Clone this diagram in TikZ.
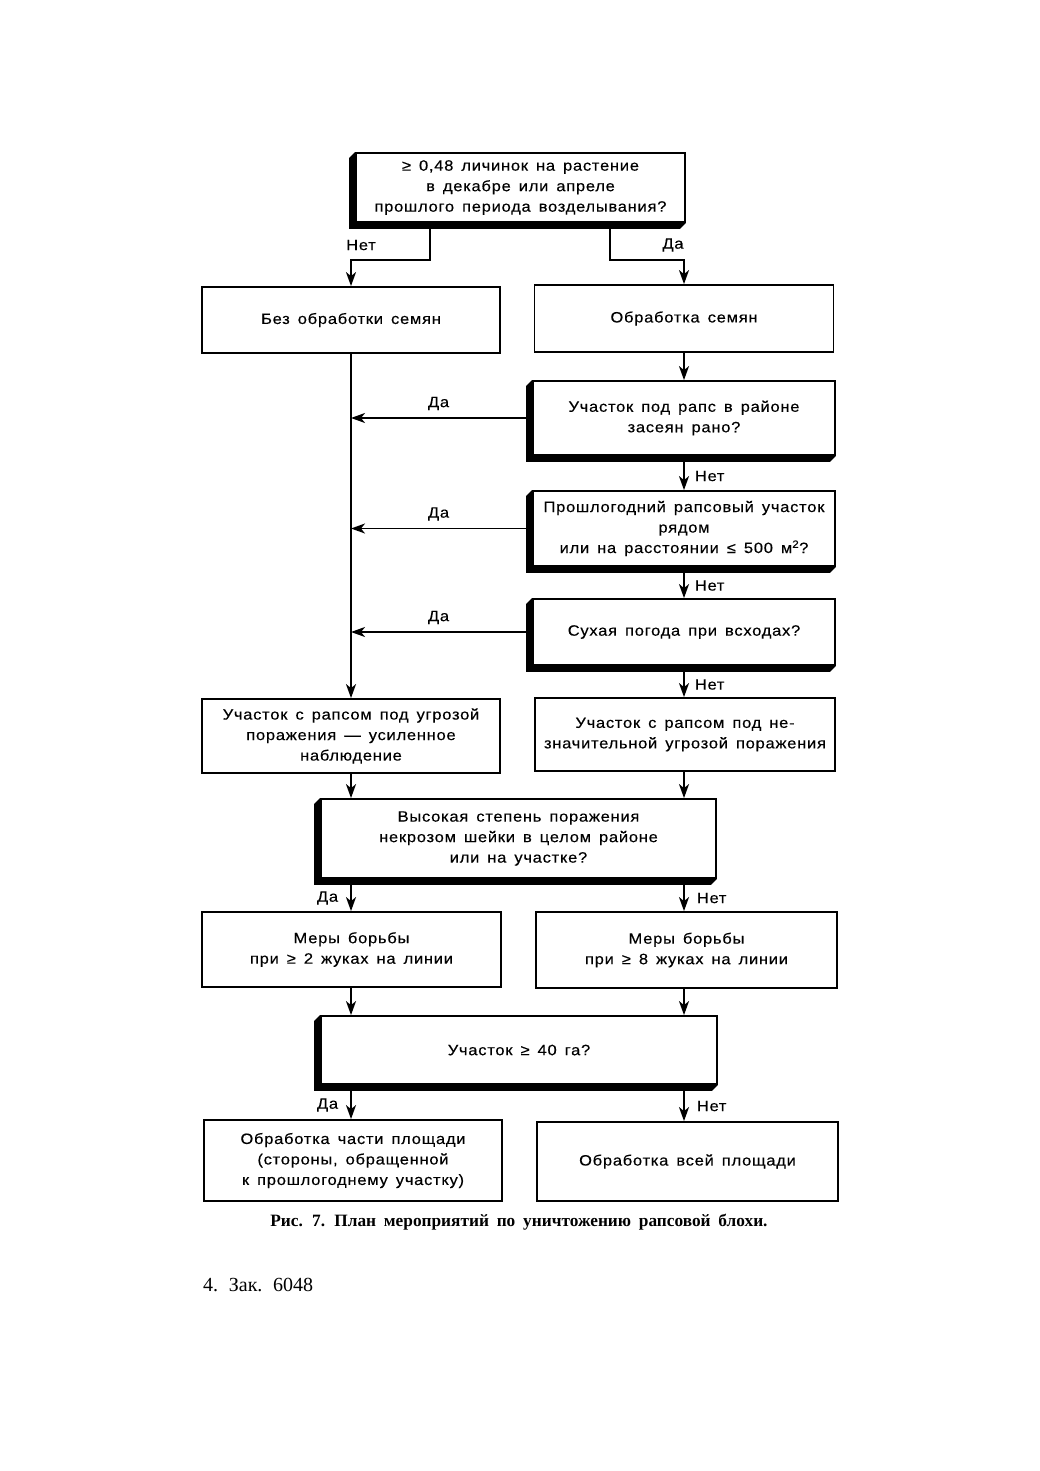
\documentclass[tikz,border=0pt]{standalone}
\usepackage{fontspec}
\setmainfont{Liberation Sans}
\newfontfamily\boxfont[WordSpace={1.5}, FakeStretch=1.1, LetterSpace=5, FakeBold=0.3]{Liberation Sans}
\newfontfamily\capfont{Liberation Serif}
\newfontfamily\zakfont[WordSpace={1.8}]{Liberation Serif}
\usetikzlibrary{arrows.meta,backgrounds,calc}
\tikzset{
  box/.style={draw, line width=1.8pt, align=center, inner sep=0pt,
    font=\boxfont\fontsize{15}{20.5}\selectfont},
  arr/.style={line width=1.8pt, -{Stealth[length=14pt,width=10pt,inset=4pt]}},
  lab/.style={font=\boxfont\fontsize{15}{18}\selectfont, inner sep=0pt},
  shadowfill/.style={fill=black}
}
\newcommand\decshadow[1]{%
  \fill[shadowfill] (#1.north west) -- ++(-6,6) -- ([shift={(-6,6)}]#1.south west)
    -- ([shift={(-6,6)}]#1.south east) -- (#1.south east) -- (#1.south west) -- cycle;}
\begin{document}
\begin{tikzpicture}[x=1pt,y=-1pt]
\useasboundingbox (0,0) rectangle (1040,1471);
\coordinate (L) at (351,0);
\coordinate (R) at (684,0);
% top question
\node[box, minimum width=329pt, minimum height=69pt] (q0) at (520.5,187.5)
  {≥ 0,48 личинок на растение\\в декабре или апреле\\прошлого периода возделывания?};
\node[box, minimum width=298pt, minimum height=66pt] (b1) at (351,320) {Без обработки семян};
\node[box, minimum width=299pt, minimum height=67pt] (b2) at (684,318.5) {Обработка семян};
\node[box, minimum width=302pt, minimum height=74pt] (q1) at (684,418)
  {Участок под рапс в районе\\засеян рано?};
\node[box, minimum width=302pt, minimum height=75pt] (q2) at (684,528.5)
  {Прошлогодний рапсовый участок\\рядом\\или на расстоянии ≤ 500 м\textsuperscript{2}?};
\node[box, minimum width=302pt, minimum height=66pt] (q3) at (684,632)
  {Сухая погода при всходах?};
\node[box, minimum width=298pt, minimum height=74pt] (b3) at (351,736)
  {Участок с рапсом под угрозой\\поражения — усиленное\\наблюдение};
\node[box, minimum width=300pt, minimum height=73pt] (b4) at (685,734.5)
  {Участок с рапсом под не-\\значительной угрозой поражения};
\node[box, minimum width=395pt, minimum height=79pt] (q4) at (518.5,838.5)
  {Высокая степень поражения\\некрозом шейки в целом районе\\или на участке?};
\node[box, minimum width=299pt, minimum height=75pt] (b5) at (351.5,949.5)
  {Меры борьбы\\при ≥ 2 жуках на линии};
\node[box, minimum width=301pt, minimum height=76pt] (b6) at (686.5,950)
  {Меры борьбы\\при ≥ 8 жуках на линии};
\node[box, minimum width=396pt, minimum height=68pt] (q5) at (519,1050)
  {Участок ≥ 40 га?};
\node[box, minimum width=298pt, minimum height=81pt] (b7) at (353,1160.5)
  {Обработка части площади\\(стороны, обращенной\\к прошлогоднему участку)};
\node[box, minimum width=301pt, minimum height=79pt] (b8) at (687.5,1161.5)
  {Обработка всей площади};
% shadows of decisions
\begin{scope}[on background layer]
  \decshadow{q0}\decshadow{q1}\decshadow{q2}\decshadow{q3}\decshadow{q4}\decshadow{q5}
\end{scope}
% top branches
\coordinate (nL) at (430,260);
\coordinate (nR) at (610,260);
\draw[arr] ($(q0.south -| nL)+(0,6)$) -- (nL) -| (b1.north);
\draw[arr] ($(q0.south -| nR)+(0,6)$) -- (nR) -| (b2.north);
\node[lab] (tNet) at (361,245) {Нет};
\node[lab] (tDa) at (673,245) {Да};
% right column
\draw[arr] (b2.south) -- (q1.north);
\draw[arr] ($(q1.south)+(0,6)$) -- (q2.north) node[lab, pos=0.5, right=10pt] (n1) {Нет};
\draw[arr] ($(q2.south)+(0,6)$) -- (q3.north) node[lab, pos=0.5, right=10pt] (n2) {Нет};
\draw[arr] ($(q3.south)+(0,6)$) -- (b4.north -| R) node[lab, pos=0.5, right=10pt] (n3) {Нет};
% left trunk
\draw[arr] (b1.south -| L) -- (b3.north -| L);
\draw[arr] ([xshift=-6pt]q1.west) -- (q1.west -| L) node[lab, pos=0.5, above=7pt] (d1) {Да};
\draw[arr] ([xshift=-6pt]q2.west) -- (q2.west -| L) node[lab, pos=0.5, above=7pt] (d2) {Да};
\draw[arr] ([xshift=-6pt]q3.west) -- (q3.west -| L) node[lab, pos=0.5, above=7pt] (d3) {Да};
% to q4
\draw[arr] (b3.south -| L) -- (q4.north -| L);
\draw[arr] (b4.south -| R) -- (q4.north -| R);
% from q4
\draw[arr] ($(q4.south -| L)+(0,6)$) -- (b5.north -| L) node[lab, pos=0.5, left=12pt] (d4) {Да};
\draw[arr] ($(q4.south -| R)+(0,6)$) -- (b6.north -| R) node[lab, pos=0.5, right=12pt] (n4) {Нет};
% to q5
\draw[arr] (b5.south -| L) -- (q5.north -| L);
\draw[arr] (b6.south -| R) -- (q5.north -| R);
% from q5
\draw[arr] ($(q5.south -| L)+(0,6)$) -- (b7.north -| L) node[lab, pos=0.5, left=12pt] (d5) {Да};
\draw[arr] ($(q5.south -| R)+(0,6)$) -- (b8.north -| R) node[lab, pos=0.5, right=12pt] (n5) {Нет};
% caption
\node[font=\capfont\bfseries\fontsize{17.3}{20}\selectfont, inner sep=0pt] (cap) at (519,1222)
  {Рис. 7. План мероприятий по уничтожению рапсовой блохи.};
\node[font=\zakfont\fontsize{20}{23}\selectfont, inner sep=0pt, anchor=west] (zak) at (203,1285)
  {4. Зак. 6048};
\end{tikzpicture}
\end{document}
